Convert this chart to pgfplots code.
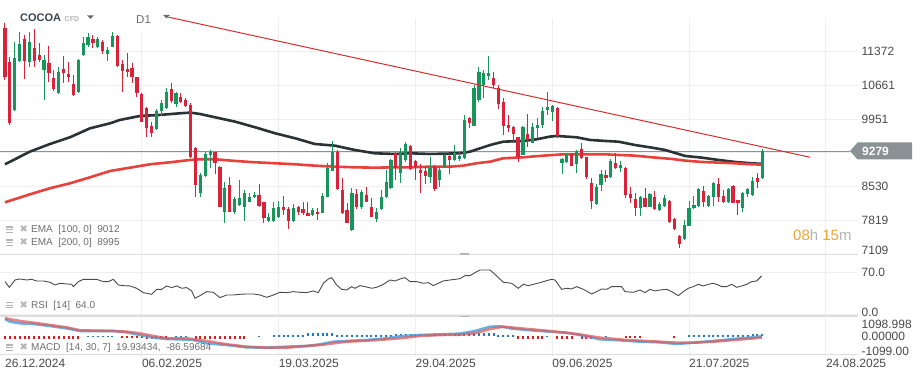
\documentclass[border=0pt]{standalone}
\usepackage{pgfplots}
\pgfplotsset{compat=1.18}
\usepackage{pgfplotstable}
\usepackage{fontspec}
\setmainfont{Liberation Sans}
\newfontfamily\symfont{DejaVu Sans}

\definecolor{cgreen}{HTML}{17965B}
\definecolor{cred}{HTML}{D9233A}
\definecolor{gridc}{HTML}{EFEFEF}
\definecolor{tickc}{HTML}{4A4A4A}
\definecolor{legc}{HTML}{6E6E6E}
\definecolor{iconc}{HTML}{B5B5B5}
\definecolor{ema1}{HTML}{2B3236}
\definecolor{ema2}{HTML}{E8413B}
\definecolor{trendc}{HTML}{D42F2F}
\definecolor{pricec}{HTML}{8A9296}
\definecolor{rsic}{HTML}{4A4A4A}
\definecolor{macdb}{HTML}{4FA3E0}
\definecolor{macdr}{HTML}{E05A5A}
\definecolor{histb}{HTML}{1F7DC6}
\definecolor{histr}{HTML}{D61F1F}
\definecolor{orangec}{HTML}{F5A431}
\definecolor{lgray}{HTML}{B4B4B4}
\definecolor{sepc}{HTML}{DDDDDD}
\definecolor{headc}{HTML}{3C4650}

\pgfplotstableread{
i o h l c
0 11864 11969 10777 10847
1 11163 11268 9830 9865
2 10146 11583 10132 11233
3 11184 11794 11163 11534
4 11632 11724 10798 11184
5 11163 11794 11057 11583
6 11443 11843 11057 11177
7 11303 11548 11163 11198
8 10987 11303 10356 11198
9 11142 11492 10742 10917
10 10812 10987 10552 10581
11 10496 11057 10490 10952
12 11008 11282 10707 10917
13 10903 11163 10742 10847
14 10693 10882 10447 10461
15 10517 11212 10510 11198
16 11303 11675 11282 11562
17 11513 11759 11478 11689
18 11639 11724 11443 11548
19 11478 11689 11457 11632
20 11583 11618 11317 11394
21 11317 11478 11184 11408
22 11478 11780 11470 11703
23 11703 11724 11057 11078
24 11114 11198 10531 10973
25 11008 11338 10847 10952
26 11022 11142 10721 10833
27 10833 10847 10426 10496
28 10475 10496 9886 9900
29 10181 10216 9571 9760
30 9809 9900 9585 9655
31 9739 10160 9730 10132
32 10125 10356 10026 10286
33 10181 10602 10167 10517
34 10581 10707 10286 10342
35 10272 10531 10202 10496
36 10426 10496 10300 10321
37 10356 10391 10216 10230
38 10251 10286 9129 9164
39 9339 9374 8322 8568
40 8406 8813 8322 8778
41 8764 9269 8743 9220
42 9199 9304 8918 9269
43 9255 9269 8792 9024
44 8953 8960 8105 8112
45 7993 8638 7775 8498
46 8568 8743 7993 8007
47 7993 8322 7951 8266
48 8147 8673 8133 8287
49 8112 8463 7817 8392
50 8217 8406 8203 8308
51 8308 8428 8287 8357
52 8357 8589 8112 8133
53 8203 8217 7761 7866
54 7817 7972 7796 7888
55 7817 8217 7796 8077
56 7902 8231 7866 8112
57 8098 8343 7937 8042
58 8056 8112 7642 7817
59 7810 8161 7796 8077
60 8098 8126 7937 8007
61 8056 8217 7937 7986
62 7972 8217 7916 7923
63 7937 8077 7916 8042
64 7993 8077 7831 7951
65 7986 8406 7979 8343
66 8322 9024 8315 8918
67 8869 9494 8862 9269
68 9269 9304 8463 8484
69 8463 8708 7965 7972
70 8042 8182 7761 7775
71 7621 8498 7607 8392
72 8378 8477 8056 8112
73 8112 8463 8056 8414
74 8357 8533 8203 8217
75 8098 8287 7888 7902
76 7859 8091 7796 8000
77 8056 8463 8042 8308
78 8308 8883 8287 8624
79 8498 9108 8484 9094
80 9248 9269 8673 8918
81 8813 9339 8617 9269
82 9094 9479 9059 9430
83 9395 9409 8883 8897
84 9073 9094 8673 8953
85 8883 9003 8406 8827
86 8862 8974 8589 8764
87 8729 9164 8617 8932
88 8953 8989 8442 8484
89 8673 8974 8533 8883
90 8953 9220 8946 9199
91 9178 9248 8799 9094
92 9094 9409 9080 9234
93 9108 9283 9080 9178
94 9129 10041 9108 9935
95 9984 10005 9774 9879
96 9816 10672 9809 10602
97 10356 11057 10321 10952
98 10672 10987 10405 10931
99 10861 11282 10777 10931
100 10812 10952 10602 10672
101 10602 10672 10160 10272
102 10307 10405 9620 9816
103 9830 10041 9676 9760
104 9781 9809 9458 9641
105 9571 9585 9059 9164
106 9199 9809 9192 9781
107 9641 10055 9374 9515
108 9458 9879 9444 9781
109 9774 9970 9550 9830
110 9830 10202 9774 10125
111 10146 10517 10041 10202
112 10097 10251 9921 10230
113 10181 10202 9550 9599
114 9024 9129 8792 9108
115 9059 9248 9024 9199
116 9213 9248 8974 8974
117 9003 9304 8827 9290
118 9318 9444 9108 9129
119 9150 9164 8687 8743
120 8603 8722 8056 8238
121 8161 8589 8154 8519
122 8568 8883 8449 8799
123 8778 8883 8638 8708
124 8729 9108 8722 9073
125 9024 9248 8897 8932
126 8918 9080 8848 8989
127 8918 8953 8301 8357
128 8371 8519 8196 8287
129 8266 8392 7923 8077
130 8077 8336 7923 8308
131 8287 8498 8105 8112
132 8112 8406 8105 8378
133 8308 8442 8042 8056
134 8042 8217 8028 8168
135 8133 8357 8112 8287
136 8231 8252 7775 7782
137 7845 7866 7621 7642
138 7502 7516 7235 7319
139 7432 7831 7411 7726
140 7712 8231 7705 8077
141 8077 8336 8063 8147
142 8133 8498 8098 8477
143 8442 8547 8112 8217
144 8126 8357 8112 8343
145 8308 8624 8133 8603
146 8589 8708 8217 8322
147 8336 8463 8182 8217
148 8217 8498 8196 8484
149 8547 8568 8182 8196
150 8252 8259 7937 8182
151 8077 8428 7993 8406
152 8371 8498 8308 8477
153 8357 8743 8343 8652
154 8708 8813 8498 8638
155 8708 9325 8694 9279
}\candles

\pgfplotstableread{
i v
0 9003
5.1 9269
9.2 9430
13.3 9571
17.4 9760
21.5 9865
23.5 9935
27.6 10019
31.7 10041
35.8 10076
37.9 10090
39.9 10062
43.0 9991
47.1 9900
51.2 9781
55.3 9655
59.4 9550
63.4 9430
67.5 9395
71.6 9304
75.7 9234
79.8 9220
82.9 9234
87.0 9220
93.1 9234
95.2 9269
99.3 9409
102.0 9479
106.1 9494
108.8 9529
111.5 9585
112.9 9599
117.0 9571
119.7 9515
122.8 9494
125.5 9479
128.9 9409
132.4 9353
135.1 9304
139.2 9178
142.6 9143
146.0 9094
149.4 9052
152.8 9024
155 9012
}\emahundred

\pgfplotstableread{
i v
0 8203
5.1 8371
9.2 8498
13.3 8603
17.4 8729
21.5 8862
25.6 8932
29.7 9003
33.8 9045
37.9 9094
40 9108
43.0 9108
47.1 9073
51.2 9045
55.3 9024
59.4 9003
63.4 8974
67.5 8953
71.6 8939
75.7 8932
79.8 8939
82.9 8939
87.0 8953
91.1 8953
93.8 8974
96.5 9024
99.3 9059
102.0 9129
106.1 9150
110.2 9185
114.3 9213
119.7 9213
122.8 9213
125.5 9199
128.9 9185
132.4 9150
136.5 9115
139.2 9080
142.6 9052
146.0 9038
149.4 9024
152.8 9003
155 8995
}\ematwohundred

\pgfplotstableread{
i v
0.00 54.7
0.89 45.4
2.05 57.4
3.07 59.1
4.43 57.4
5.46 58.5
6.48 55.8
7.85 55.8
9.21 53.6
10.23 49.2
11.26 52.0
12.62 50.9
13.64 50.3
14.00 46.5
15.01 54.7
16.03 58.5
17.40 58.5
18.76 58.5
20.13 54.7
21.15 54.7
22.17 58.5
23.20 49.2
24.22 48.1
25.58 47.6
26.95 43.8
28.31 36.7
30.02 33.9
31.04 42.1
32.07 42.1
33.09 47.6
34.11 44.9
35.13 47.6
36.16 43.8
37.18 44.9
38.20 39.4
38.89 27.4
39.91 31.7
41.27 38.3
42.64 37.2
44.00 28.5
45.37 32.8
46.73 32.8
48.10 33.9
49.46 34.5
50.82 34.5
52.19 32.8
53.55 29.0
54.58 31.7
56.28 37.2
57.65 36.7
59.01 38.3
60.38 37.2
61.74 36.7
63.11 39.4
64.13 36.7
65.15 52.0
66.18 59.1
66.86 61.2
67.88 49.2
68.90 42.1
69.93 41.0
70.95 46.5
71.63 43.8
72.66 48.1
73.68 46.5
75.04 43.8
76.07 45.4
77.43 50.3
78.80 57.4
79.82 55.8
80.84 59.1
81.87 61.2
82.89 54.7
84.25 54.7
85.62 52.0
86.64 53.0
87.67 48.1
88.69 52.0
89.71 55.8
91.08 57.4
93.12 59.5
94.14 64.5
95.17 64.5
96.19 69.4
97.21 73.8
98.24 73.8
99.26 73.8
100.28 66.7
101.99 53.6
103.69 52.0
105.06 43.8
106.08 50.3
107.11 48.1
108.13 50.3
109.49 53.0
110.86 56.3
111.88 58.5
112.56 57.4
113.93 42.1
114.95 43.8
115.97 42.7
117.00 46.5
118.36 42.1
120.07 34.5
121.09 38.3
122.11 42.7
123.14 42.1
124.16 46.5
125.18 46.5
126.21 46.5
126.89 38.3
128.60 37.2
129.96 41.0
130.98 36.7
132.01 42.1
133.03 39.4
134.05 41.0
135.42 42.1
136.44 38.3
137.81 31.7
138.83 38.3
139.85 43.8
140.88 46.5
141.90 50.3
142.92 47.6
143.95 50.3
144.97 52.0
145.99 49.2
146.68 46.5
147.70 46.5
148.72 50.3
149.75 45.4
150.77 47.6
151.79 50.3
152.82 54.7
153.84 55.8
154.86 64.0
}\rsi

\pgfplotstableread{
i v
0 1540
1.02 1305
3.07 1159
5.8 1100
9.21 924
12.6 719
15.35 484
18.1 484
22.17 484
24.9 367
27.6 132
30.4 -103
33.1 -220
35.8 -249
38.55 -308
41.3 -601
45.4 -748
49.5 -953
53.6 -983
57.65 -895
61.74 -836
64.5 -689
67.2 -455
69.9 -396
74.0 -308
78.1 -161
80.8 15
84.9 132
89.0 191
93.1 250
96.2 484
99.3 865
101.3 895
103.4 719
106.8 572
111.5 425
115.0 337
117.7 132
121.8 -249
125.9 -337
130.0 -455
134.1 -513
137.5 -660
140.9 -543
145.0 -396
149.1 -220
153.2 -73
154.9 20
}\macd

\pgfplotstableread{
i v
0 1599
3.07 1364
5.8 1217
9.21 1012
12.6 807
15.35 543
22.17 484
24.9 425
27.6 279
30.4 44
33.1 -161
37.2 -161
41.3 -396
45.4 -689
49.5 -895
53.6 -983
57.65 -983
61.74 -836
64.5 -748
67.2 -601
69.9 -455
74.0 -367
78.1 -249
80.8 -161
84.9 44
89.0 132
93.1 160
96.2 279
99.3 660
102.0 865
105.4 719
111.5 484
117.0 220
121.8 -103
127.2 -308
131.3 -396
137.5 -543
140.9 -543
145.0 -455
149.1 -308
153.2 -161
154.9 -87
}\signal

\pgfplotstableread{
i v
0 -180
1 -180
2 -180
3 -180
4 -180
5 -180
6 -180
7 -180
8 -180
9 -180
10 -180
11 -180
12 -180
13 -180
14 -180
15 -180
17 80
18 80
19 80
20 80
21 80
22 80
24 -150
25 -150
26 -150
27 -150
28 -150
29 -260
30 -260
31 -260
32 -260
33 -260
35 60
36 60
37 60
39 -180
40 -180
41 -180
42 -180
43 -180
44 -180
45 -180
46 -180
47 -180
48 -180
49 -180
52 60
55 120
56 120
57 120
58 120
59 120
60 120
61 120
62 280
63 280
64 280
65 280
66 280
67 280
68 90
69 90
70 90
71 90
72 90
73 90
74 90
75 90
76 90
77 90
78 90
79 90
80 220
81 220
82 220
83 220
84 220
85 220
86 220
87 220
88 220
89 220
90 220
91 220
92 220
93 340
94 340
95 340
96 340
97 340
98 340
99 340
100 340
101 90
102 90
103 90
104 90
105 -180
106 -180
107 -180
108 -180
109 -180
110 -180
111 60
113 -180
114 -180
115 -180
116 -180
118 -180
119 -180
120 -180
123 60
127 -120
128 -120
129 -120
130 -120
137 -120
140 170
141 170
142 170
143 170
144 170
145 170
146 170
147 170
148 170
149 170
150 170
151 170
152 170
153 220
154 220
155 220
}\hist

\pgfplotsset{
  panel/.style={
    scale only axis, width=858pt, anchor=south west,
    xmin=-1.023, xmax=174.58,
    axis line style={draw=none}, major tick length=0pt,
    scaled y ticks=false, scaled x ticks=false,
    xtick={28,56,84,112,140,168}, xticklabels={},
    yticklabel pos=right,
    xmajorgrids=true, ymajorgrids=true,
    major grid style={gridc, line width=1pt},
    yticklabel style={font=\fontsize{12}{14}\selectfont, text=tickc, anchor=west, inner sep=0pt, xshift=3.5pt},
    /pgf/number format/assume math mode=true,
  },
  candle/.style n args={2}{only marks, mark=*, mark size=0pt,
    mark options={draw=none, fill=none},
    error bars/.cd, y dir=both, y explicit, error mark=none,
    error bar style={line width=#1, draw=#2}},
}

\begin{document}
\begin{tikzpicture}[x=1pt, y=1pt]
\fill[white] (0,0) rectangle (921,380);
\path[use as bounding box] (0,0) rectangle (921,380);

% ---------------- main panel ----------------
\begin{axis}[panel, at={(0pt,125.7pt)}, height=236.3pt,
  ymin=7109, ymax=12081,
  ytick={7819.5,8530,9240.5,9951,10661.5,11372},
  yticklabels={7819,8530,{},9951,10661,11372},
  extra y ticks={7109}, extra y tick labels={7109},
  extra y tick style={yticklabel style={yshift=3.5pt}},
]
\addplot[pricec, line width=1pt] coordinates {(-1.023,9279) (172.9,9279)};
\addplot[ema1, line width=2.6pt] table[x=i, y=v] {\emahundred};
\addplot[ema2, line width=2.6pt] table[x=i, y=v] {\ematwohundred};
% wicks
\addplot[candle={1pt}{cgreen}] table[x=i,
  y expr={ifthenelse(\thisrow{c}>=\thisrow{o},(\thisrow{h}+\thisrow{l})/2,nan)},
  y error expr={(\thisrow{h}-\thisrow{l})/2}] {\candles};
\addplot[candle={1pt}{cred}] table[x=i,
  y expr={ifthenelse(\thisrow{c}<\thisrow{o},(\thisrow{h}+\thisrow{l})/2,nan)},
  y error expr={(\thisrow{h}-\thisrow{l})/2}] {\candles};
% bodies
\addplot[candle={3.2pt}{cgreen}] table[x=i,
  y expr={ifthenelse(\thisrow{c}>=\thisrow{o},(\thisrow{o}+\thisrow{c})/2,nan)},
  y error expr={max(abs(\thisrow{c}-\thisrow{o})/2,11)}] {\candles};
\addplot[candle={3.2pt}{cred}] table[x=i,
  y expr={ifthenelse(\thisrow{c}<\thisrow{o},(\thisrow{o}+\thisrow{c})/2,nan)},
  y error expr={max(abs(\thisrow{c}-\thisrow{o})/2,11)}] {\candles};
% trend line
\addplot[trendc, line width=1pt] coordinates {(33.07,12108) (164.8,9150)};
\end{axis}

% ---------------- RSI panel ----------------
\begin{axis}[panel, at={(0pt,64pt)}, height=61pt,
  ymin=-1.64, ymax=98.36,
  ytick={70}, yticklabels={70.0},
  extra y ticks={0}, extra y tick labels={0.0},
  extra y tick style={yticklabel style={yshift=3pt}},
]
\addplot[rsic, line width=0.9pt] table[x=i, y=v] {\rsi};
\end{axis}

% ---------------- MACD panel ----------------
\begin{axis}[panel, at={(0pt,23pt)}, height=41pt,
  ymin=-1804, ymax=1804, ymajorgrids=false,
  ytick={0,1099}, yticklabels={0.00000,1098.998},
  extra y ticks={-1099}, extra y tick labels={-1099.00},
  extra y tick style={yticklabel style={yshift=-2pt}, ymajorgrids=false},
  xticklabels={06.02.2025,19.03.2025,29.04.2025,09.06.2025,21.07.2025,24.08.2025},
  xticklabel style={font=\fontsize{12}{14}\selectfont, text=tickc, anchor=north west, inner sep=0pt, yshift=-1.5pt},
]
\addplot[candle={2pt}{histb}] table[x=i,
  y expr={ifthenelse(\thisrow{v}>0,\thisrow{v}/2,nan)},
  y error expr={abs(\thisrow{v})/2}] {\hist};
\addplot[candle={2pt}{histr}] table[x=i,
  y expr={ifthenelse(\thisrow{v}<0,\thisrow{v}/2,nan)},
  y error expr={abs(\thisrow{v})/2}] {\hist};
\addplot[macdb, line width=2.6pt, opacity=0.85] table[x=i, y=v] {\macd};
\addplot[macdr, line width=2.6pt, opacity=0.75] table[x=i, y=v] {\signal};
\end{axis}
% first date label (no grid line at the first bar)
\node[anchor=north west, inner sep=0pt, text=tickc, font=\fontsize{12}{14}\selectfont] at (5,21.5) {26.12.2024};

% ---------------- separators ----------------
\draw[sepc, line width=1.5pt] (0,125.7) -- (858,125.7);
\draw[sepc, line width=1.2pt] (0,64) -- (858,64);
\draw[sepc, line width=1pt] (0,25) -- (858,25);
\draw[lgray, line width=1.6pt] (460,125.7) -- (469,125.7);
\draw[lgray, line width=1.6pt] (460,63.5) -- (469,63.5);

% ---------------- header ----------------
\fill[white] (128,348) rectangle (156,368);
\node[anchor=west, inner sep=0pt, text=headc, font=\bfseries\fontsize{11}{13}\selectfont] at (20,362) {COCOA};
\node[anchor=west, inner sep=0pt, text=lgray, font=\bfseries\fontsize{7}{8}\selectfont] at (64.5,361) {CFD};
\fill[gray!85!black] (87,364.5) -- (94,364.5) -- (90.5,361) -- cycle;
\node[anchor=west, inner sep=0pt, text=legc, font=\fontsize{11.5}{13}\selectfont] at (136,360) {D1};
\fill[gray!85!black] (163,365) -- (170,365) -- (166.5,361.5) -- cycle;

% ---------------- countdown ----------------
\node[anchor=west, inner sep=0pt, font=\fontsize{15}{17}\selectfont] at (793,145)
  {\textcolor{orangec}{08}\textcolor{lgray}{h} \textcolor{orangec}{15}\textcolor{lgray}{m}};

% ---------------- indicator legends ----------------
\foreach \yy/\txt in {150/{EMA \ [100, 0] \ 9012}, 137/{EMA \ [200, 0] \ 8995}, 74.5/{RSI \ [14] \ 64.0}, 32/{MACD \ [14, 30, 7] \ 19.93434, \ -86.59684}} {
  \draw[iconc, line width=1.4pt] (6,\yy+3) -- (13,\yy+3);
  \draw[iconc, line width=1pt] (6,\yy+0.3) -- (13,\yy+0.3);
  \draw[iconc, line width=1pt] (6,\yy-2.4) -- (13,\yy-2.4);
  \node[anchor=west, inner sep=0pt, text=iconc, font=\symfont\fontsize{10}{11}\selectfont] at (19.5,\yy+0.5) {✖};
  \node[anchor=west, inner sep=0pt, text=legc, font=\fontsize{10}{12}\selectfont] at (31,\yy) {\txt};
}

% ---------------- last price tag ----------------
\fill[pricec] (850,229) -- (857.5,237.5) -- (912,237.5) -- (912,220.5) -- (857.5,220.5) -- cycle;
\node[anchor=west, inner sep=0pt, text=white, font=\bfseries\fontsize{12}{14}\selectfont] at (862,229) {9279};
\end{tikzpicture}
\end{document}
